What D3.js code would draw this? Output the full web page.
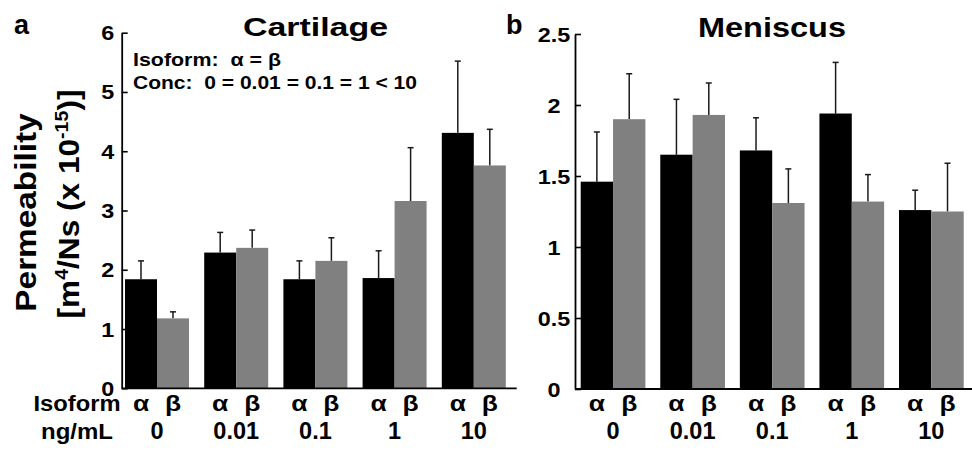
<!DOCTYPE html>
<html><head><meta charset="utf-8">
<script src="https://cdn.jsdelivr.net/npm/d3@7"></script>
<style>
body{margin:0;background:#fff}
svg{display:block}
text{font-family:"Liberation Sans",Arial,Helvetica,sans-serif;font-weight:bold;fill:#000}
</style>
</head><body>
<svg id="chart" width="972" height="450"></svg>
<script>
// ---- data ----
const concentrations = ["0", "0.01", "0.1", "1", "10"];
const isoforms = ["α", "β"];

const cartilageAlpha   = [1.84, 2.29, 1.84, 1.86, 4.31];
const cartilageAlphaSD = [0.31, 0.34, 0.31, 0.46, 1.21];
const cartilageBeta    = [1.18, 2.37, 2.15, 3.16, 3.76];
const cartilageBetaSD  = [0.11, 0.30, 0.39, 0.90, 0.61];

const meniscusAlpha   = [1.46, 1.65, 1.68, 1.94, 1.26];
const meniscusAlphaSD = [0.35, 0.39, 0.23, 0.36, 0.14];
const meniscusBeta    = [1.90, 1.93, 1.31, 1.32, 1.25];
const meniscusBetaSD  = [0.32, 0.225, 0.24, 0.19, 0.34];

const cartilageTicks = [0, 1, 2, 3, 4, 5, 6];
const meniscusTicks = [0, 0.5, 1, 1.5, 2, 2.5];

const svg = d3.select("#chart");
const GRAY = "#808080";

function stretchText(sel, x, y, sx, rot) {
  sel.attr("transform", `translate(${x},${y})` + (rot ? ` rotate(${rot})` : "") + ` scale(${sx},1)`);
  return sel;
}

function panel(cfg) {
  const g = svg.append("g");
  const y = d3.scaleLinear().domain([0, cfg.yMax]).range([cfg.y0, cfg.yTop]);
  const xg = d3.scaleBand().domain(concentrations).range(cfg.bandRange)
    .paddingInner(cfg.padInner).paddingOuter(0);
  const xi = d3.scaleBand().domain(isoforms).range([0, xg.bandwidth()]);

  const rows = concentrations.map((c, i) => ({
    c,
    bars: [
      {iso: "α", v: cfg.alpha[i], sd: cfg.alphaSD[i], fill: "#000"},
      {iso: "β", v: cfg.beta[i], sd: cfg.betaSD[i], fill: GRAY}
    ]
  }));

  const grp = g.selectAll("g.grp").data(rows).join("g")
    .attr("transform", d => `translate(${xg(d.c)},0)`);

  // error bars (upper only)
  const eb = grp.selectAll("g.eb").data(d => d.bars).join("g");
  eb.append("line")
    .attr("x1", d => xi(d.iso) + xi.bandwidth() / 2)
    .attr("x2", d => xi(d.iso) + xi.bandwidth() / 2)
    .attr("y1", d => y(d.v)).attr("y2", d => y(d.v + d.sd))
    .attr("stroke", "#1a1a1a").attr("stroke-width", 1.5);
  eb.append("line")
    .attr("x1", d => xi(d.iso) + xi.bandwidth() / 2 - 3)
    .attr("x2", d => xi(d.iso) + xi.bandwidth() / 2 + 3)
    .attr("y1", d => y(d.v + d.sd)).attr("y2", d => y(d.v + d.sd))
    .attr("stroke", "#1a1a1a").attr("stroke-width", 1.5);

  // bars
  grp.selectAll("rect").data(d => d.bars).join("rect")
    .attr("x", d => xi(d.iso)).attr("width", xi.bandwidth())
    .attr("y", d => y(d.v)).attr("height", d => y(0) - y(d.v))
    .attr("fill", d => d.fill);

  // isoform labels
  grp.selectAll("text.iso").data(d => d.bars).join("text")
    .attr("class", "iso")
    .attr("transform", d => `translate(${xi(d.iso) + xi.bandwidth() / 2},410.5) scale(1.2,1)`)
    .attr("text-anchor", "middle").attr("font-size", 22)
    .text(d => d.iso);

  // concentration labels
  grp.append("text")
    .attr("x", xg.bandwidth() / 2).attr("y", 439)
    .attr("text-anchor", "middle").attr("font-size", 23.5)
    .text(d => d.c);

  // y axis
  const ax = g.append("g").attr("transform", `translate(${cfg.axisX},0)`)
    .call(d3.axisLeft(y).tickValues(cfg.ticks).tickSizeInner(-6).tickSizeOuter(0)
      .tickFormat(d3.format("")));
  ax.select(".domain").attr("stroke", "#000").attr("stroke-width", 1.8);
  ax.selectAll(".tick line").attr("stroke", "#000").attr("stroke-width", 1.6);
  ax.selectAll(".tick text")
    .attr("x", null).attr("dy", null)
    .attr("fill", "#000")
    .attr("font-size", 19.5).attr("font-family", null)
    .attr("text-anchor", "middle")
    .attr("y", 7)
    .attr("transform", `translate(${cfg.tickLabelDX},0) scale(1.2,1)`);

  // x axis line
  g.append("line")
    .attr("x1", cfg.axisX).attr("x2", cfg.xEnd)
    .attr("y1", y(0)).attr("y2", y(0))
    .attr("stroke", "#000").attr("stroke-width", 1.8);

  // title
  g.append("text")
    .attr("x", cfg.titleX).attr("y", cfg.titleY)
    .attr("font-size", cfg.titleSize)
    .attr("textLength", cfg.titleLen).attr("lengthAdjust", "spacingAndGlyphs")
    .text(cfg.title);

  // panel letter
  g.append("text").attr("x", cfg.letterX).attr("y", 33.5)
    .attr("font-size", 27).text(cfg.letter);

  return g;
}

panel({
  alpha: cartilageAlpha, alphaSD: cartilageAlphaSD,
  beta: cartilageBeta, betaSD: cartilageBetaSD,
  yMax: 6, y0: 388.3, yTop: 32.7, ticks: cartilageTicks,
  bandRange: [125, 505.8], padInner: 0.192,
  axisX: 121.7, xEnd: 516.7, tickLabelDX: -14,
  title: "Cartilage", titleX: 243, titleY: 35.7, titleSize: 26.5, titleLen: 145,
  letter: "a", letterX: 14
});

panel({
  alpha: meniscusAlpha, alphaSD: meniscusAlphaSD,
  beta: meniscusBeta, betaSD: meniscusBetaSD,
  yMax: 2.5, y0: 389, yTop: 34, ticks: meniscusTicks,
  bandRange: [580.7, 963.7], padInner: 0.187,
  axisX: 575, xEnd: 972, tickLabelDX: -21,
  title: "Meniscus", titleX: 698, titleY: 36.7, titleSize: 27.5, titleLen: 148,
  letter: "b", letterX: 506
});

// annotation in cartilage panel
svg.append("text").attr("x", 133).attr("y", 65.7).attr("font-size", 18.5)
  .style("white-space", "pre")
  .attr("textLength", 148).attr("lengthAdjust", "spacingAndGlyphs")
  .text("Isoform:  α = β");
svg.append("text").attr("x", 133).attr("y", 89).attr("font-size", 18.5)
  .style("white-space", "pre")
  .attr("textLength", 284).attr("lengthAdjust", "spacingAndGlyphs")
  .text("Conc:  0 = 0.01 = 0.1 = 1 < 10");

// row labels on the left
svg.append("text").attr("x", 77).attr("y", 411).attr("font-size", 22)
  .attr("text-anchor", "middle")
  .attr("textLength", 87).attr("lengthAdjust", "spacingAndGlyphs")
  .text("Isoform");
svg.append("text").attr("x", 77).attr("y", 439).attr("font-size", 22)
  .attr("text-anchor", "middle")
  .attr("textLength", 72).attr("lengthAdjust", "spacingAndGlyphs")
  .text("ng/mL");

// y axis title (two lines)
const t1 = svg.append("text").attr("font-size", 29).attr("text-anchor", "middle")
  .text("Permeability");
stretchText(t1, 36, 212.5, 1.15, -90);

const t2 = svg.append("text").attr("font-size", 29).attr("text-anchor", "middle");
t2.append("tspan").text("[m");
t2.append("tspan").attr("font-size", 18).attr("dy", -11).text("4");
t2.append("tspan").attr("dy", 11).text("/Ns (x 10");
t2.append("tspan").attr("font-size", 18).attr("dy", -11).text("-15");
t2.append("tspan").attr("dy", 11).text(")]");
stretchText(t2, 79, 204, 1.09, -90);
</script>
</body></html>
